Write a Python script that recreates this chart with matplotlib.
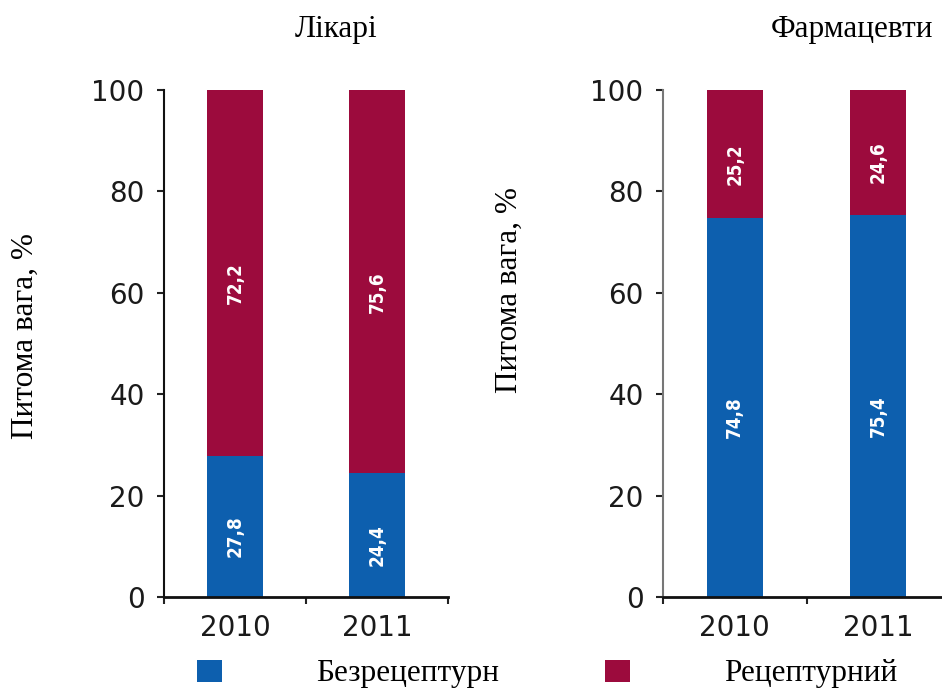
import matplotlib
matplotlib.use("Agg")
import matplotlib.pyplot as plt
from matplotlib.patches import Patch

# ---- data ----
categories = ["2010", "2011"]
doctors_otc = [27.8, 24.4]
doctors_rx = [72.2, 75.6]
pharm_otc = [74.8, 75.4]
pharm_rx = [25.2, 24.6]
panel_titles = ["Лікарі", "Фармацевти"]
y_label = "Питома вага, %"
legend_labels = ["Безрецептурн", "Рецептурний"]
y_ticks = [0, 20, 40, 60, 80, 100]

BLUE = "#0d5fae"
RED = "#9c0b3d"
SERIF = ["Liberation Serif", "DejaVu Serif"]
SANS = ["DejaVu Sans"]

W, H = 942, 693
fig = plt.figure(figsize=(W / 100, H / 100), dpi=100)


def px_axes(x0, x1, ytop, ybot):
    return [x0 / W, 1 - ybot / H, (x1 - x0) / W, (ybot - ytop) / H]


def draw_panel(ax, otc, rx, yspine_color):
    x = list(range(len(categories)))
    width = 0.39
    ax.bar(x, otc, width=width, color=BLUE, linewidth=0)
    ax.bar(x, rx, width=width, bottom=otc, color=RED, linewidth=0)
    for xi, o, r in zip(x, otc, rx):
        for base, val in ((0, o), (o, r)):
            ax.text(xi, base + val / 2 - 2, f"{val:.1f}".replace(".", ","),
                    rotation=90, ha="center", va="center", color="white",
                    fontsize=13.5, fontweight="bold", fontstretch="condensed",
                    family=SANS)
    ax.set_xlim(-0.5, 1.5)
    ax.set_ylim(0, 100)
    ax.set_yticks(y_ticks)
    ax.set_xticks(x)
    ax.set_xticklabels(categories)
    ax.set_xticks([-0.5, 0.5, 1.5], minor=True)
    ax.tick_params(axis="x", which="major", length=0, pad=12,
                   labelsize=20, labelcolor="#1a1a1a")
    ax.tick_params(axis="x", which="minor", length=5, width=1.5,
                   direction="out", color="#222222")
    ax.tick_params(axis="y", length=5, width=1.5, pad=9, labelsize=20,
                   labelcolor="#1a1a1a", color="#222222")
    for lab in ax.get_xticklabels() + ax.get_yticklabels():
        lab.set_family(SANS)
    ax.spines["top"].set_visible(False)
    ax.spines["right"].set_visible(False)
    ax.spines["bottom"].set_linewidth(2)
    ax.spines["bottom"].set_color("#111111")
    ax.spines["left"].set_linewidth(1.5)
    ax.spines["left"].set_color(yspine_color)
    ax.patch.set_alpha(0)


ax1 = fig.add_axes(px_axes(164, 448, 90, 597))
draw_panel(ax1, doctors_otc, doctors_rx, "#111111")
ax2 = fig.add_axes(px_axes(663, 950, 90, 597))
draw_panel(ax2, pharm_otc, pharm_rx, "#777777")

# titles
fig.text(336 / W, 1 - 30 / H, panel_titles[0], ha="center", va="center",
         fontsize=22.5, family=SERIF)
fig.text(852 / W, 1 - 30 / H, panel_titles[1], ha="center", va="center",
         fontsize=22.5, family=SERIF)

# y labels
fig.text(25 / W, 1 - 336 / H, y_label, rotation=90, ha="center", va="center",
         fontsize=22.5, family=SERIF)
fig.text(509 / W, 1 - 290 / H, y_label, rotation=90, ha="center", va="center",
         fontsize=22.5, family=SERIF)

# legend
handles = [Patch(facecolor=BLUE, edgecolor="none"),
           Patch(facecolor=RED, edgecolor="none")]
leg = fig.legend(handles, legend_labels, loc="center left",
                 bbox_to_anchor=(197 / W, 1 - 674 / H), ncol=2, frameon=False,
                 borderpad=0, borderaxespad=0, handlelength=0.8,
                 handleheight=0.7, handletextpad=3.0, columnspacing=3.4,
                 prop={"family": SERIF, "size": 22.5})

fig.savefig("out.png", dpi=100)
